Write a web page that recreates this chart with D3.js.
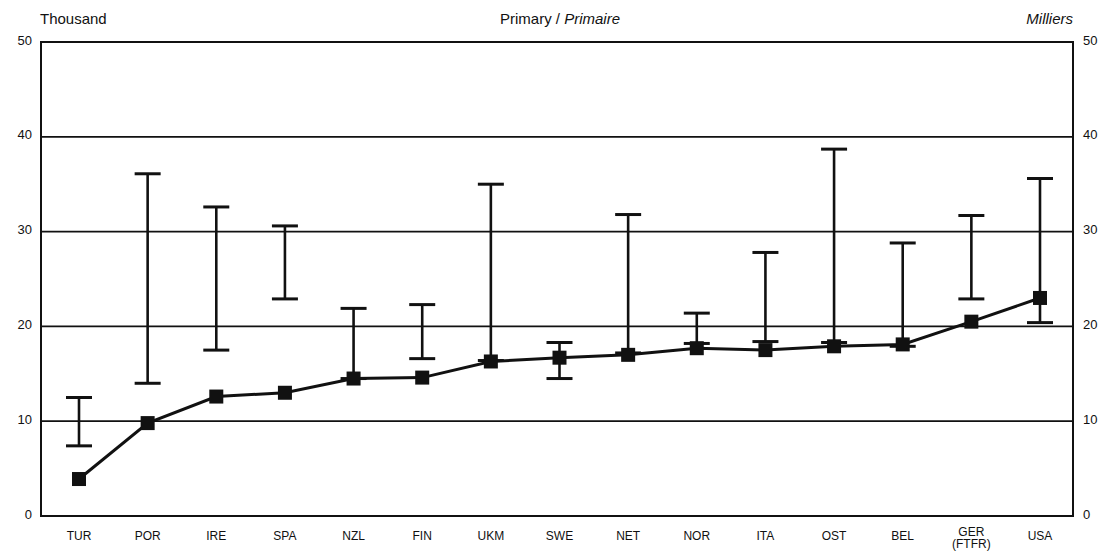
<!DOCTYPE html>
<html>
<head>
<meta charset="utf-8">
<script src="https://cdn.jsdelivr.net/npm/d3@7"></script>
<style>
  body { margin: 0; background: #fff; }
  svg { display: block; }
  text { font-family: "Liberation Sans", "DejaVu Sans", sans-serif; fill: #111; }
</style>
</head>
<body>
<svg id="chart" width="1104" height="560"></svg>
<script>
const categories = ["TUR","POR","IRE","SPA","NZL","FIN","UKM","SWE","NET","NOR","ITA","OST","BEL","GER\n(FTFR)","USA"];
const values     = [3.9, 9.8, 12.6, 13.0, 14.5, 14.6, 16.3, 16.7, 17.0, 17.7, 17.5, 17.9, 18.1, 20.5, 23.0];
const rangeHigh  = [12.5, 36.1, 32.6, 30.6, 21.9, 22.3, 35.0, 18.3, 31.8, 21.4, 27.8, 38.7, 28.8, 31.7, 35.6];
const rangeLow   = [7.4, 14.0, 17.5, 22.9, 14.5, 16.6, 16.4, 14.5, 17.2, 18.2, 18.4, 18.3, 17.9, 22.9, 20.4];
const yTicks     = [0, 10, 20, 30, 40, 50];
const gridValues = [10, 20, 30, 40];

(function () {
const svg = d3.select("#chart");
const mL = 41, mR = 1073, mT = 42, mB = 516;

const x = d3.scalePoint().domain(categories).range([79, 1040]);
const y = d3.scaleLinear().domain([0, 50]).range([mB, mT]);

// gridlines
svg.append("g").selectAll("line").data(gridValues).join("line")
  .attr("x1", mL).attr("x2", mR)
  .attr("y1", d => y(d)).attr("y2", d => y(d))
  .attr("stroke", "#111").attr("stroke-width", 1.8);

// frame
svg.append("rect").attr("x", mL).attr("y", mT)
  .attr("width", mR - mL).attr("height", mB - mT)
  .attr("fill", "none").attr("stroke", "#111").attr("stroke-width", 2);

// y axis labels (both sides)
const yAxisL = d3.axisLeft(y).tickValues(yTicks).tickSize(0).tickPadding(9);
const gL = svg.append("g").attr("transform", `translate(${mL},-2)`).call(yAxisL);
gL.select(".domain").remove();
gL.selectAll("text").style("font-size", "13px").style("font-family", "Liberation Sans, sans-serif").attr("fill", "#111");

const yAxisR = d3.axisRight(y).tickValues(yTicks).tickSize(0).tickPadding(10);
const gR = svg.append("g").attr("transform", `translate(${mR},-2)`).call(yAxisR);
gR.select(".domain").remove();
gR.selectAll("text").style("font-size", "13px").style("font-family", "Liberation Sans, sans-serif").attr("fill", "#111");

// x labels
const xl = svg.append("g");
categories.forEach(c => {
  const lines = c.split("\n");
  const t = xl.append("text").attr("x", x(c)).attr("y", lines.length > 1 ? 536 : 540)
    .attr("text-anchor", "middle").style("font-size", "12px");
  lines.forEach((ln, i) => {
    t.append("tspan").attr("x", x(c)).attr("dy", i === 0 ? 0 : 12).text(ln);
  });
});

// error bars
const eb = svg.append("g").attr("stroke", "#111");
categories.forEach((c, i) => {
  eb.append("line").attr("x1", x(c)).attr("x2", x(c))
    .attr("y1", y(rangeHigh[i])).attr("y2", y(rangeLow[i])).attr("stroke-width", 2.6);
  [rangeHigh[i], rangeLow[i]].forEach(v => {
    eb.append("line").attr("x1", x(c) - 13).attr("x2", x(c) + 13)
      .attr("y1", y(v)).attr("y2", y(v)).attr("stroke-width", 3);
  });
});

// line
const lineGen = d3.line().x((d, i) => x(categories[i])).y(d => y(d));
svg.append("path").datum(values).attr("d", lineGen)
  .attr("fill", "none").attr("stroke", "#111").attr("stroke-width", 3);

// markers
svg.append("g").selectAll("rect").data(values).join("rect")
  .attr("x", (d, i) => x(categories[i]) - 7)
  .attr("y", d => y(d) - 7)
  .attr("width", 14).attr("height", 14)
  .attr("fill", "#111");

// titles
svg.append("text").attr("x", 40).attr("y", 24).style("font-size", "15px").text("Thousand");
const tt = svg.append("text").attr("x", 560).attr("y", 24).attr("text-anchor", "middle").style("font-size", "15px");
tt.append("tspan").text("Primary / ");
tt.append("tspan").style("font-style", "italic").text("Primaire");
svg.append("text").attr("x", 1073).attr("y", 24).attr("text-anchor", "end")
  .style("font-size", "15px").style("font-style", "italic").text("Milliers");
})();
</script>
</body>
</html>
